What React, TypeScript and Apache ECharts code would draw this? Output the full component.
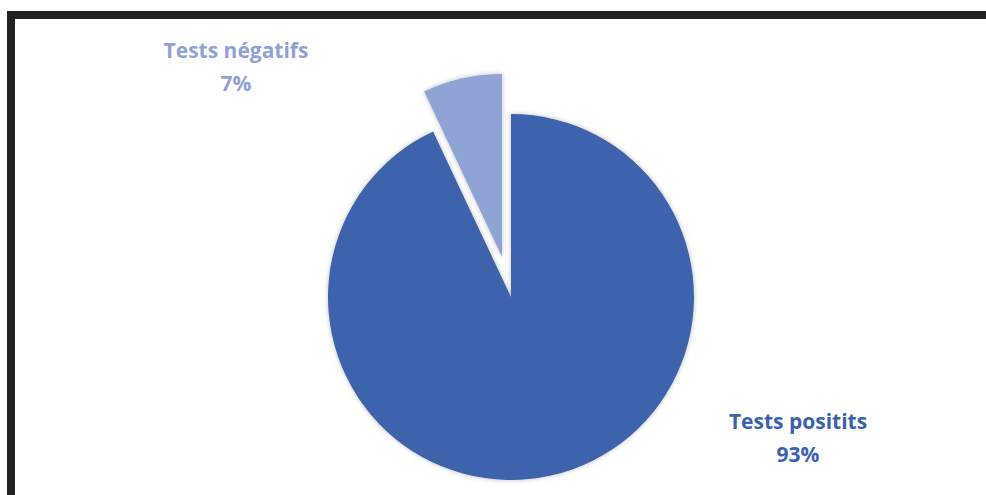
import React, { useEffect, useRef } from "react";
import * as echarts from "echarts";

const categories = ["Tests positits", "Tests négatifs"];
const values = [93, 7];
const percentLabels = ["93%", "7%"];
const colors = ["#3D64AC", "#8FA3D5"];
const labelColors = ["#3A62AD", "#8FA2D4"];

export default function App() {
  const ref = useRef<HTMLDivElement>(null);
  useEffect(() => {
    document.body.style.margin = "0";
    const chart = echarts.init(ref.current!, null, { renderer: "svg" });
    const labelPos = [
      { x: 798, y: 437 },
      { x: 236, y: 66 },
    ];
    chart.setOption({
      animation: false,
      backgroundColor: "#ffffff",
      graphic: [
        {
          type: "rect",
          shape: { x: 11, y: 15, width: 1000, height: 520 },
          style: { fill: "none", stroke: "#222222", lineWidth: 8 },
          z: 10,
        },
        ...categories.map((c, i) => ({
          type: "text",
          x: labelPos[i].x,
          y: labelPos[i].y,
          style: {
            text: `${c}\n${percentLabels[i]}`,
            fill: labelColors[i],
            font: "bold 21px 'Open Sans'",
            lineHeight: 33,
            align: "center",
            verticalAlign: "middle",
          },
          z: 20,
        })),
      ],
      series: [
        {
          type: "pie",
          center: [511, 297],
          radius: 183,
          startAngle: 90,
          clockwise: true,
          selectedMode: "single",
          selectedOffset: 41,
          itemStyle: {
            shadowBlur: 5,
            shadowColor: "rgba(0,0,0,0.25)",
          },
          label: { show: false },
          labelLine: { show: false },
          data: categories.map((c, i) => ({
            name: c,
            value: values[i],
            selected: i === 1,
            itemStyle: { color: colors[i] },
          })),
        },
      ],
    });
    return () => chart.dispose();
  }, []);
  return <div ref={ref} style={{ width: 986, height: 495 }} />;
}
